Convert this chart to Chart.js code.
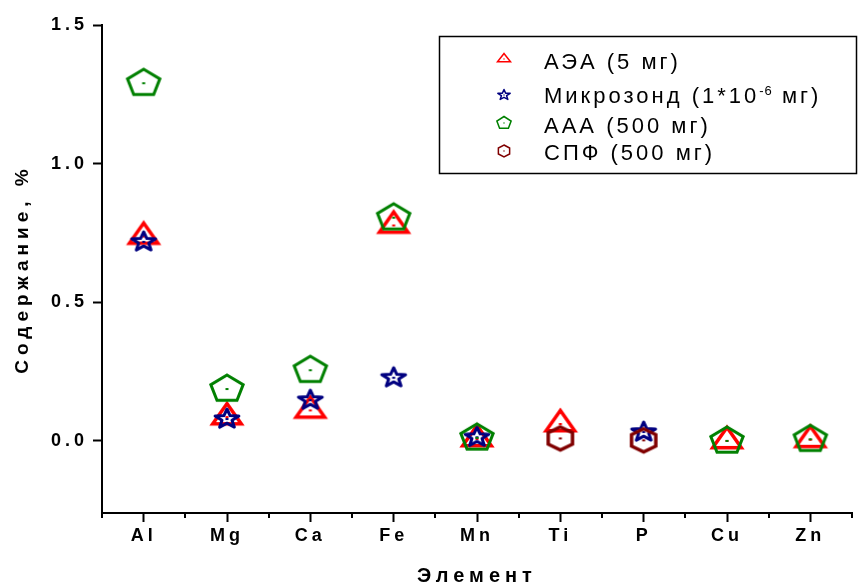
<!DOCTYPE html>
<html>
<head>
<meta charset="utf-8">
<script src="https://cdn.jsdelivr.net/npm/chart.js@4.4.1/dist/chart.umd.min.js"></script>
<style>
  html, body { margin: 0; padding: 0; background: #fff; }
  #wrap { width: 863px; height: 588px; }
</style>
</head>
<body>
<div id="wrap"><canvas id="chart"></canvas></div>
<script>
// values, one entry per element (null = no point)
const elements = ['Al', 'Mg', 'Ca', 'Fe', 'Mn', 'Ti', 'P', 'Cu', 'Zn'];
const aesValues   = [0.737, 0.086, 0.11, 0.777, 0.007, 0.061, null, 0.0, 0.004];
const probeValues = [0.718, 0.079, 0.147, 0.228, 0.013, null, 0.032, null, null];
const aaaValues   = [1.29, 0.187, 0.255, 0.805, 0.011, null, null, 0.0, 0.006];
const spfValues   = [null, null, null, null, null, 0.009, 0.002, null, null];
const seriesLabels = ['АЭА (5 мг)', 'Микрозонд (1*10^-6 мг)', 'ААА (500 мг)', 'СПФ (500 мг)'];
const yTicks = [0, 0.5, 1.0, 1.5];
const xMinorTicks = [0.5, 1.5, 2.5, 3.5, 4.5, 5.5, 6.5, 7.5, 8.5, 9.5];

const FONT = 'Liberation Sans';

// hollow Origin-style symbols drawn onto small canvases, used as pointStyle
function makeMarker(shape, color, sx, sy, lw, dot) {
  const c = document.createElement('canvas');
  c.width = 2 * Math.ceil(sx + lw * 2 + 2);
  c.height = 2 * Math.ceil(sy + lw * 2 + 2);
  const g = c.getContext('2d');
  g.translate(c.width / 2, c.height / 2);
  let pts = [];
  const deg = Math.PI / 180;
  if (shape === 'triangle') {
    pts = [[0, -1], [0.866, 0.5], [-0.866, 0.5]];
  } else if (shape === 'pentagon') {
    for (let k = 0; k < 5; k++) pts.push([Math.cos((-90 + 72 * k) * deg), Math.sin((-90 + 72 * k) * deg)]);
  } else if (shape === 'hexagon') {
    for (let k = 0; k < 6; k++) pts.push([Math.cos((-90 + 60 * k) * deg), Math.sin((-90 + 60 * k) * deg)]);
  } else if (shape === 'star') {
    for (let k = 0; k < 10; k++) {
      const r = k % 2 ? 0.42 : 1;
      pts.push([r * Math.cos((-90 + 36 * k) * deg), r * Math.sin((-90 + 36 * k) * deg)]);
    }
  }
  g.beginPath();
  pts.forEach(([x, y], i) => i ? g.lineTo(x * sx, y * sy) : g.moveTo(x * sx, y * sy));
  g.closePath();
  g.strokeStyle = color;
  g.lineWidth = lw;
  g.lineJoin = shape === 'star' ? 'round' : 'miter';
  g.stroke();
  g.fillStyle = color;
  g.fillRect(-dot / 2, -dot / 3, dot, dot * 0.66);
  return c;
}

const colors = ['#ff0000', '#000080', '#008000', '#800000'];
const bigMarkers = [
  makeMarker('triangle', colors[0], 16.5, 13.5, 3.5, 3),
  makeMarker('star', colors[1], 12.5, 10, 3, 3),
  makeMarker('pentagon', colors[2], 17, 14, 3, 3),
  makeMarker('hexagon', colors[3], 14, 11.5, 3.5, 3)
];
const smallMarkers = [
  makeMarker('triangle', colors[0], 7.5, 5.5, 1.5, 1.5),
  makeMarker('star', colors[1], 6.5, 5.5, 1.5, 1.5),
  makeMarker('pentagon', colors[2], 7.5, 6.5, 1.5, 1.5),
  makeMarker('hexagon', colors[3], 6.5, 6, 1.5, 1.5)
];

function toPoints(values) {
  return values.map((v, i) => ({ x: i + 1, y: v })).filter(p => p.y !== null);
}

const allValues = [aesValues, probeValues, aaaValues, spfValues];

const boxLegend = {
  id: 'boxLegend',
  afterDraw(chart) {
    const ctx = chart.ctx;
    ctx.save();
    ctx.fillStyle = '#fff';
    ctx.fillRect(439, 36, 418, 138);
    ctx.strokeStyle = '#000';
    ctx.lineWidth = 1.5;
    ctx.strokeRect(439.5, 36.5, 417, 137);
    const baselines = [69, 103, 133, 160];
    const markerY = [59, 95, 123, 151];
    seriesLabels.forEach((label, i) => {
      const m = smallMarkers[i];
      ctx.drawImage(m, 504 - m.width / 2, markerY[i] - m.height / 2);
      ctx.fillStyle = '#000';
      ctx.textBaseline = 'alphabetic';
      ctx.textAlign = 'left';
      let x = 544;
      label.split(/\^(-?\d+)/).forEach((part, j) => {
        if (j % 2) {
          ctx.font = '13px "' + FONT + '"';
          ctx.letterSpacing = '1px';
          ctx.fillText(part, x, baselines[i] - 8);
        } else {
          ctx.font = '22px "' + FONT + '"';
          ctx.letterSpacing = '3px';
          ctx.fillText(part, x, baselines[i]);
        }
        x += ctx.measureText(part).width;
      });
    });
    ctx.restore();
  }
};

// Origin spaces its letters widely; titles a bit more than tick labels
const spacing = {
  id: 'spacing',
  beforeDraw(chart) {
    chart.ctx.letterSpacing = '4px';
    Object.values(chart.scales).forEach(s => {
      if (s._spaced) return;
      const orig = s.drawTitle;
      s.drawTitle = function () {
        const prev = this.ctx.letterSpacing;
        this.ctx.letterSpacing = '5px';
        orig.apply(this, arguments);
        this.ctx.letterSpacing = prev;
      };
      s._spaced = true;
    });
  }
};

const minorTicks = {
  id: 'minorTicks',
  afterDraw(chart) {
    const ctx = chart.ctx;
    const xs = chart.scales.x;
    ctx.save();
    ctx.strokeStyle = '#000';
    ctx.lineWidth = 2;
    ctx.beginPath();
    xMinorTicks.forEach(v => {
      const px = Math.round(xs.getPixelForValue(v));
      ctx.moveTo(px, xs.top);
      ctx.lineTo(px, xs.top + 5);
    });
    ctx.stroke();
    ctx.restore();
  }
};

new Chart(document.getElementById('chart'), {
  type: 'scatter',
  data: {
    datasets: seriesLabels.map((label, i) => ({
      label: label.replace('^', ''),
      data: toPoints(allValues[i]),
      pointStyle: bigMarkers[i],
      pointRadius: 10,
      borderColor: colors[i],
      backgroundColor: colors[i],
      order: 4 - i
    }))
  },
  options: {
    responsive: true,
    maintainAspectRatio: false,
    animation: false,
    events: [],
    layout: { padding: { top: 25, left: 0, right: 0, bottom: 0 } },
    plugins: { legend: { display: false }, tooltip: { enabled: false } },
    scales: {
      x: {
        type: 'linear',
        min: 0.5,
        max: 9.5,
        afterBuildTicks: (axis) => { axis.ticks = elements.map((_, i) => ({ value: i + 1 })); },
        afterFit: (axis) => { axis.height = 75; },
        ticks: {
          callback: (value, index) => elements[index],
          font: { family: FONT, size: 18, weight: 'bold' },
          color: '#000',
          padding: 3,
          maxRotation: 0,
          autoSkip: false
        },
        grid: { drawOnChartArea: false, tickLength: 9, tickWidth: 2, tickColor: '#000' },
        border: { display: true, color: '#000', width: 2 },
        title: {
          display: true,
          text: 'Элемент',
          font: { family: FONT, size: 20, weight: 'bold' },
          color: '#000',
          padding: { top: 0, bottom: 0 }
        }
      },
      y: {
        min: -0.26,
        max: 1.5,
        afterBuildTicks: (axis) => { axis.ticks = yTicks.map(v => ({ value: v })); },
        afterFit: (axis) => { axis.width = 102; },
        ticks: {
          callback: (value) => value.toFixed(1),
          font: { family: FONT, size: 18, weight: 'bold' },
          color: '#000',
          padding: 5
        },
        grid: { drawOnChartArea: false, tickLength: 9, tickWidth: 2, tickColor: '#000' },
        border: { display: true, color: '#000', width: 2 },
        title: {
          display: true,
          text: 'Содержание, %',
          font: { family: FONT, size: 19, weight: 'bold' },
          color: '#000',
          padding: { top: 11, bottom: 0 }
        }
      }
    }
  },
  plugins: [spacing, minorTicks, boxLegend]
});
</script>
</body>
</html>
